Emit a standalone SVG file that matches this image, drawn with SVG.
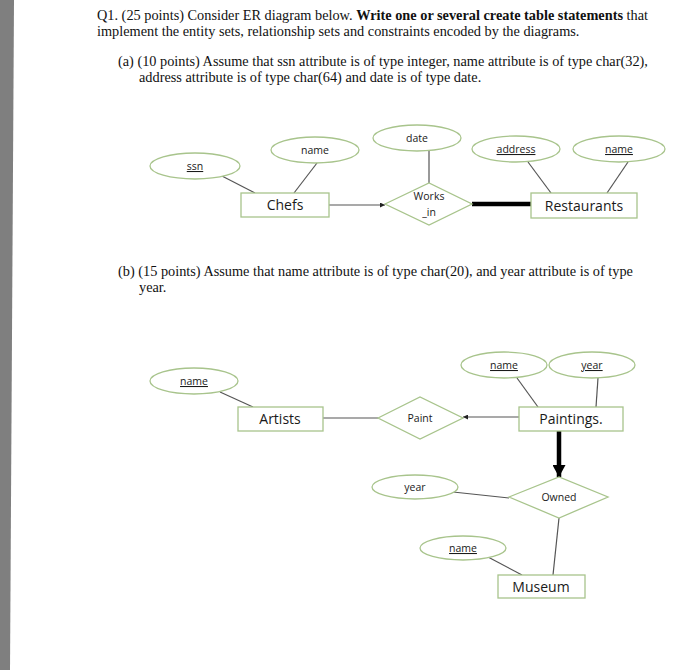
<svg xmlns="http://www.w3.org/2000/svg" width="700" height="670" viewBox="0 0 700 670">
<defs>
<style>
.q{font-family:"Liberation Serif","Times New Roman",serif;font-size:14.3px;fill:#111}
.b{font-weight:bold}
.att{fill:#fff;stroke:#a8c48c;stroke-width:1.3}
.ent{fill:#fff;stroke:#a8c48c;stroke-width:1.3}
.lbl{font-family:"Open Sans","Noto Sans","Liberation Sans",sans-serif;fill:#1a1a1a;text-anchor:middle}
.al{font-size:10.5px}
.el{font-size:14px}
.rl{font-size:10.5px}
.u{text-decoration:underline}
.ln{stroke:#555;stroke-width:1.2;fill:none}
.thick{stroke:#000;stroke-width:4.5;fill:none}
</style>
<marker id="sa" viewBox="0 0 10 10" refX="10" refY="5" markerWidth="5" markerHeight="5" markerUnits="userSpaceOnUse" orient="auto"><path d="M0,0 L10,5 L0,10 z" fill="#222"/></marker>
<marker id="ba" viewBox="0 0 12 13" refX="12" refY="6.5" markerWidth="12" markerHeight="13" markerUnits="userSpaceOnUse" orient="auto"><path d="M0,0 L12,6.5 L0,13 z" fill="#000"/></marker>
</defs>
<rect width="700" height="670" fill="#fff"/>
<polygon points="0,0 14,0 10,670 0,670" fill="#7f7f7f"/>

<g id="text">
<text class="q" x="97" y="20">Q1. (25 points) Consider ER diagram below. <tspan class="b">Write one or several create table statements</tspan> that</text>
<text class="q" x="97" y="36">implement the entity sets, relationship sets and constraints encoded by the diagrams.</text>
<text class="q" x="118" y="66">(a) (10 points) Assume that ssn attribute is of type integer, name attribute is of type char(32),</text>
<text class="q" x="139" y="82">address attribute is of type char(64) and date is of type date.</text>
<text class="q" x="118" y="276">(b) (15 points) Assume that name attribute is of type char(20), and year attribute is of type</text>
<text class="q" x="139" y="292">year.</text>
</g>

<g id="connectors">
<line class="ln" x1="220" y1="175" x2="255" y2="193"/>
<line class="ln" x1="317" y1="163" x2="294" y2="193"/>
<line class="ln" x1="329" y1="205" x2="385" y2="205" marker-end="url(#sa)"/>
<line class="ln" x1="429" y1="151" x2="429" y2="183"/>
<line class="thick" x1="472" y1="204" x2="531" y2="204"/>
<line class="ln" x1="528" y1="162" x2="551" y2="193"/>
<line class="ln" x1="628" y1="162" x2="607" y2="193"/>

<line class="ln" x1="220" y1="392" x2="253" y2="407"/>
<line class="ln" x1="323" y1="418" x2="378" y2="418"/>
<line class="ln" x1="517" y1="378" x2="538" y2="407"/>
<line class="ln" x1="598" y1="378" x2="596" y2="407"/>
<line class="ln" x1="519" y1="417" x2="463" y2="417" marker-end="url(#sa)"/>
<line class="thick" x1="559" y1="431" x2="559" y2="477" marker-end="url(#ba)"/>
<line class="ln" x1="453" y1="492" x2="509" y2="498"/>
<line class="ln" x1="488" y1="557" x2="522" y2="575"/>
<line class="ln" x1="559" y1="518" x2="553" y2="575"/>
</g>

<g id="a-ssn"><ellipse class="att" cx="195" cy="166" rx="45" ry="13"/><text class="lbl al u" x="195" y="170">ssn</text></g>
<g id="a-chef-name"><ellipse class="att" cx="315" cy="150" rx="44" ry="13"/><text class="lbl al" x="315" y="154">name</text></g>
<g id="e-chefs"><rect class="ent" x="241" y="193" width="88" height="24"/><text class="lbl el" x="285" y="210">Chefs</text></g>
<g id="a-date"><ellipse class="att" cx="417" cy="138" rx="44" ry="13"/><text class="lbl al" x="417" y="142">date</text></g>
<g id="r-works"><polygon class="att" points="385,204 429,183 472,204 429,225"/><text class="lbl rl" x="429" y="200">Works</text><text class="lbl rl" x="429" y="216">_in</text></g>
<g id="a-address"><ellipse class="att" cx="516" cy="149" rx="44" ry="13"/><text class="lbl al u" x="516" y="153">address</text></g>
<g id="a-rest-name"><ellipse class="att" cx="619" cy="149" rx="46" ry="13"/><text class="lbl al u" x="619" y="153">name</text></g>
<g id="e-restaurants"><rect class="ent" x="531" y="193" width="106" height="25"/><text class="lbl el" x="584" y="211">Restaurants</text></g>

<g id="a-artist-name"><ellipse class="att" cx="194" cy="381" rx="44" ry="13"/><text class="lbl al u" x="194" y="385">name</text></g>
<g id="e-artists"><rect class="ent" x="238" y="407" width="85" height="24"/><text class="lbl el" x="280" y="424">Artists</text></g>
<g id="r-paint"><polygon class="att" points="378,418 420,397 463,418 420,439"/><text class="lbl rl" x="420" y="422">Paint</text></g>
<g id="a-painting-name"><ellipse class="att" cx="504" cy="365" rx="43" ry="13"/><text class="lbl al u" x="504" y="369">name</text></g>
<g id="a-painting-year"><ellipse class="att" cx="592" cy="365" rx="43" ry="13"/><text class="lbl al u" x="592" y="369">year</text></g>
<g id="e-paintings"><rect class="ent" x="519" y="407" width="104" height="24"/><text class="lbl el" x="571" y="424">Paintings.</text></g>
<g id="r-owned"><polygon class="att" points="509,497 559,477 608,497 559,518"/><text class="lbl rl" x="559" y="501">Owned</text></g>
<g id="a-owned-year"><ellipse class="att" cx="415" cy="487" rx="43" ry="12"/><text class="lbl al" x="415" y="491">year</text></g>
<g id="a-museum-name"><ellipse class="att" cx="463" cy="548" rx="43" ry="12"/><text class="lbl al u" x="463" y="552">name</text></g>
<g id="e-museum"><rect class="ent" x="498" y="575" width="87" height="23"/><text class="lbl el" x="541" y="592">Museum</text></g>
</svg>
